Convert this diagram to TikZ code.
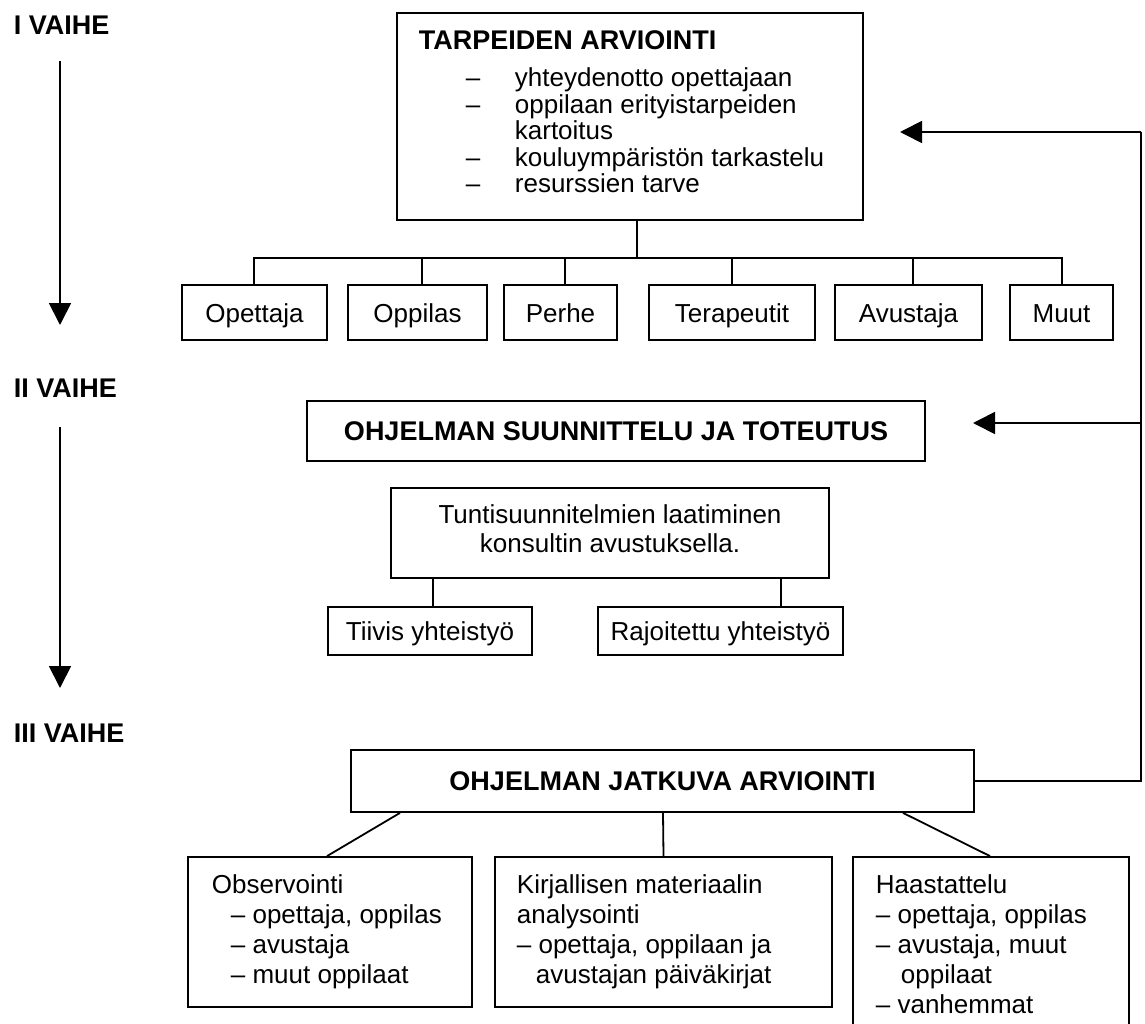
\documentclass[tikz,border=0pt]{standalone}
\usepackage{fontspec}
\setmainfont{Liberation Sans}
\usetikzlibrary{arrows.meta,calc}
\begin{document}
\begin{tikzpicture}[x=1pt,y=-1pt,
  line width=1.8pt,
  box/.style={draw,line width=1.8pt,rectangle,inner sep=0pt,font=\fontsize{26}{30}\selectfont,text height=19pt,text depth=0pt},
  bbox/.style={box,font=\fontsize{27}{30}\selectfont\bfseries},
  txt/.style={anchor=base west,inner sep=0pt,font=\fontsize{26}{30}\selectfont},
  ctxt/.style={anchor=base,inner sep=0pt,font=\fontsize{26}{30}\selectfont},
  hd/.style={anchor=base west,inner sep=0pt,font=\fontsize{27}{30}\selectfont\bfseries},
  tri/.style={-{Triangle[length=22pt,width=22pt]}}
]
\useasboundingbox (0,0) rectangle (1145,1024);
\clip (0,0) rectangle (1145,1024);

% phase labels and arrows
\node[hd] (v1) at (13,35) {I VAIHE};
\node[hd] (v2) at (13,397) {II VAIHE};
\node[hd] (v3) at (13,742) {III VAIHE};
\coordinate (a1s) at (60,61);
\coordinate (a1e) at (60,325);
\coordinate (a2s) at (60,427);
\coordinate (a2e) at (60,688);
\draw[tri] (a1s) -- (a1e);
\draw[tri] (a2s) -- (a2e);

% needs assessment
\node[box,minimum width=466pt,minimum height=207pt] (tarp) at (630,116.5) {};
\node[hd] (tarph) at (418,50) {TARPEIDEN ARVIOINTI};
\node[txt] (d1) at (465,87) {–};
\node[txt] (t1) at (514,87) {yhteydenotto opettajaan};
\node[txt] (d2) at (465,113.5) {–};
\node[txt] (t2) at (514,113.5) {oppilaan erityistarpeiden};
\node[txt] (t2b) at (514,140) {kartoitus};
\node[txt] (d3) at (465,166.5) {–};
\node[txt] (t3) at (514,166.5) {kouluympäristön tarkastelu};
\node[txt] (d4) at (465,193) {–};
\node[txt] (t4) at (514,193) {resurssien tarve};

% children
\node[box,minimum width=145pt,minimum height=55pt] (opet) at (254.5,312.5) {Opettaja};
\node[box,minimum width=139pt,minimum height=55pt] (oppi) at (417.5,312.5) {Oppilas};
\node[box,minimum width=113pt,minimum height=55pt] (perhe) at (560.5,312.5) {Perhe};
\node[box,minimum width=166pt,minimum height=55pt] (tera) at (732,312.5) {Terapeutit};
\node[box,minimum width=147pt,minimum height=55pt] (avus) at (908.5,312.5) {Avustaja};
\node[box,minimum width=103pt,minimum height=55pt] (muut) at (1061.5,312.5) {Muut};

\coordinate (bus) at (637,258);
\coordinate (busL) at (254,258);
\coordinate (busR) at (1062,258);
\draw ([xshift=7pt]tarp.south) -- (bus);
\draw (busL) -- (busR);
\draw ([xshift=-0.5pt]opet.north) -- ++(0,-27);
\draw ([xshift=4.5pt]oppi.north) -- ++(0,-27);
\draw ([xshift=4.5pt]perhe.north) -- ++(0,-27);
\draw (tera.north) -- ++(0,-27);
\draw ([xshift=4.5pt]avus.north) -- ++(0,-27);
\draw ([xshift=0.5pt]muut.north) -- ++(0,-27);

% planning
\node[bbox,minimum width=618pt,minimum height=60pt] (suun) at (616,431) {OHJELMAN SUUNNITTELU JA TOTEUTUS};
\node[box,minimum width=438pt,minimum height=90pt] (tunti) at (610,533) {};
\node[ctxt] (tu1) at (610,523) {Tuntisuunnitelmien laatiminen};
\node[ctxt] (tu2) at (610,552) {konsultin avustuksella.};
\node[box,minimum width=204pt,minimum height=48pt] (tiiv) at (430,631) {Tiivis yhteistyö};
\node[box,minimum width=245pt,minimum height=48pt] (rajo) at (720.5,631) {Rajoitettu yhteistyö};
\draw ([xshift=3pt]tiiv.north) -- ++(0,-28);
\draw ([xshift=60.5pt]rajo.north) -- ++(0,-28);

% evaluation
\node[bbox,minimum width=623pt,minimum height=62pt] (jatk) at (662.5,781) {OHJELMAN JATKUVA ARVIOINTI};
\node[box,minimum width=284pt,minimum height=150pt] (obs) at (330,932) {};
\node[box,minimum width=337pt,minimum height=150pt] (kirj) at (663.5,932) {};
\node[box,minimum width=276pt,minimum height=183pt] (haas) at (991,948.5) {};
\draw ([xshift=-262.5pt]jatk.south) -- ([xshift=-3pt]obs.north);
\draw ([xshift=0.5pt]jatk.south) -- ([xshift=0pt]kirj.north);
\draw ([xshift=240.5pt]jatk.south) -- ([xshift=-1pt]haas.north);

\node[txt] (o1) at (211,893) {Observointi};
\node[txt] (o2) at (230,923) {– opettaja, oppilas};
\node[txt] (o3) at (230,953) {– avustaja};
\node[txt] (o4) at (230,983) {– muut oppilaat};

\node[txt] (k1) at (516,893) {Kirjallisen materiaalin};
\node[txt] (k2) at (516,923) {analysointi};
\node[txt] (k3) at (516,953) {– opettaja, oppilaan ja};
\node[txt] (k4) at (535,983) {avustajan päiväkirjat};

\node[txt] (h1) at (875,893) {Haastattelu};
\node[txt] (h2) at (875,923) {– opettaja, oppilas};
\node[txt] (h3) at (875,953) {– avustaja, muut};
\node[txt] (h4) at (900,983) {oppilaat};
\node[txt] (h5) at (875,1013) {– vanhemmat};

% feedback loop
\coordinate (fbT) at (1141,132);
\coordinate (fbM) at (1141,423);
\coordinate (tip1) at (900,132);
\coordinate (tip2) at (973,423);
\draw (jatk.east) -| (fbT);
\draw[tri] (fbT) -- (tip1);
\draw[tri] (fbM) -- (tip2);
\end{tikzpicture}
\end{document}
